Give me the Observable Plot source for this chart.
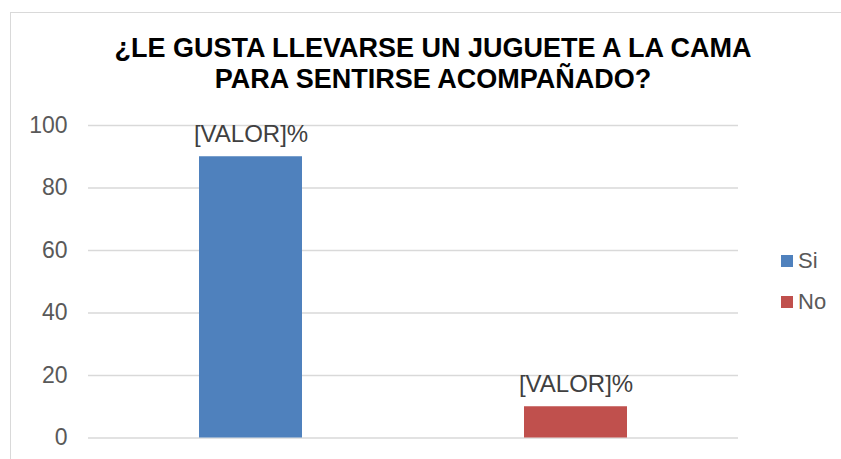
<!DOCTYPE html>
<html>
<head>
<meta charset="utf-8">
<script src="https://cdn.jsdelivr.net/npm/d3@7"></script>
<script src="https://cdn.jsdelivr.net/npm/@observablehq/plot@0.6"></script>
<style>
  html, body { margin: 0; padding: 0; background: #fff; }
  body { width: 841px; height: 459px; position: relative; overflow: hidden; font-family: "Liberation Sans", Arial, sans-serif; }
  #frame { position: absolute; left: 10px; top: 12px; width: 900px; height: 520px; border: 1px solid #d9d9d9; box-sizing: border-box; }
  #title { position: absolute; left: 25px; top: 33px; width: 816px; text-align: center; font-weight: bold; font-size: 27px; line-height: 31px; color: #000; }
  #chart { position: absolute; left: 0; top: 100px; }
  #legend { position: absolute; left: 781px; top: 240.5px; font-size: 22px; color: #595959; }
  .row { display: flex; align-items: center; height: 41px; }
  .sw { width: 12px; height: 12px; margin-right: 5px; }
</style>
</head>
<body>
<div id="frame"></div>
<div id="title">¿LE GUSTA LLEVARSE UN JUGUETE A LA CAMA<br>PARA SENTIRSE ACOMPAÑADO?</div>
<div id="chart"></div>
<div id="legend"></div>
<script>
const categories = ["Si", "No"];
const values = [90, 10];
const labels = ["[VALOR]%", "[VALOR]%"];
const colors = ["#4F81BD", "#C0504D"];
const yTicks = [0, 20, 40, 60, 80, 100];

const data = categories.map((c, i) => ({cat: c, value: values[i], label: labels[i]}));

const plot = Plot.plot({
  width: 841,
  height: 359,
  marginLeft: 88,
  marginRight: 103,
  marginTop: 25,
  marginBottom: 21.5,
  style: {fontFamily: "Liberation Sans, Arial, sans-serif", background: "transparent"},
  x: {domain: categories, paddingInner: 0.684, paddingOuter: 0.342, axis: null},
  y: {domain: [0, 100], ticks: yTicks, tickSize: 0, tickPadding: 21, label: null, tickFormat: d => String(d)},
  color: {domain: categories, range: colors},
  marks: [
    Plot.ruleY(yTicks, {stroke: "#d9d9d9", strokeWidth: 1.3}),
    Plot.barY(data, {x: "cat", y: "value", fill: "cat"}),
    Plot.text(data, {x: "cat", y: "value", text: "label", lineAnchor: "bottom", dy: -15, fontSize: 24, fill: "#404040"})
  ]
});
plot.querySelectorAll('[aria-label="y-axis tick label"] text, g[aria-label="y-axis tick label"]').forEach(el => {
  el.setAttribute("font-size", "23");
  el.setAttribute("fill", "#595959");
  el.style.fontSize = "23px";
});
document.getElementById("chart").appendChild(plot);

const legend = document.getElementById("legend");
categories.forEach((c, i) => {
  const row = document.createElement("div");
  row.className = "row";
  const sw = document.createElement("div");
  sw.className = "sw";
  sw.style.background = colors[i];
  const t = document.createElement("span");
  t.textContent = c;
  row.appendChild(sw);
  row.appendChild(t);
  legend.appendChild(row);
});
</script>
</body>
</html>
